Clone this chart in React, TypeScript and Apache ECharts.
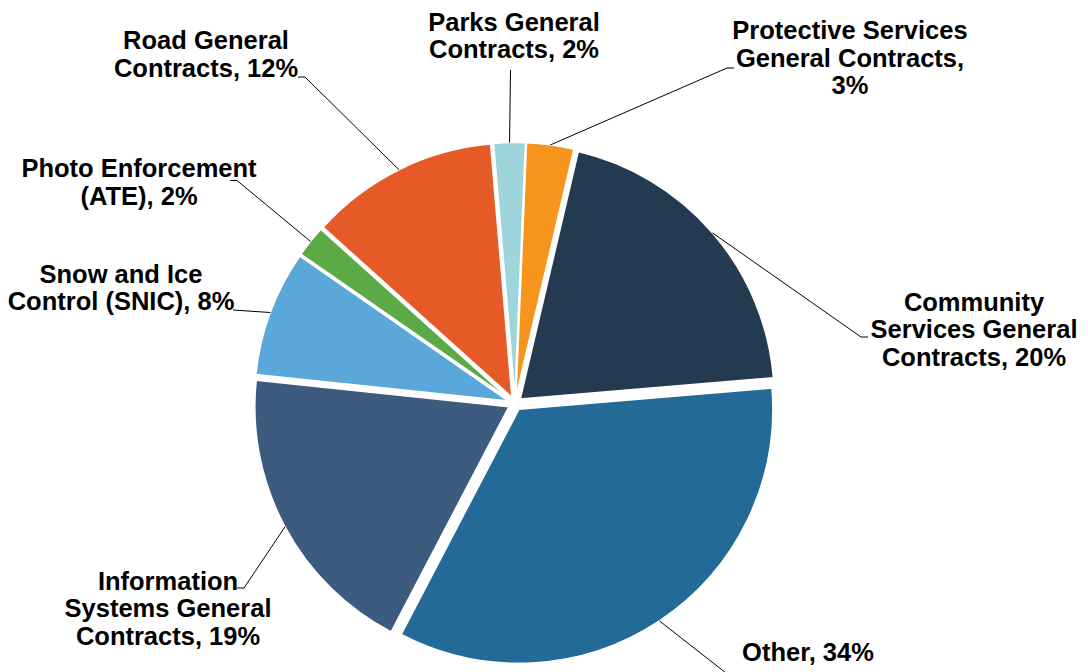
import React, { useEffect, useRef } from "react";
import * as echarts from "echarts";

const categories = [
  "Protective Services\nGeneral Contracts",
  "Community\nServices General\nContracts",
  "Other",
  "Information\nSystems General\nContracts",
  "Snow and Ice\nControl (SNIC)",
  "Photo Enforcement\n(ATE)",
  "Road General\nContracts",
  "Parks General\nContracts",
];
const shares = [3, 20, 34, 19, 8, 2, 12, 2];

// styling / layout (not data)
const colors = ["#F7941D", "#243A51", "#236A99", "#3D5B7E", "#5AA7DA", "#5BAA46", "#E55A27", "#9DD5DB"];
const labelSep = [",\n", ", ", ", ", ", ", ", ", ", ", ", ", ", "];
const labelPos = [
  [850, 57.5],
  [974, 329],
  [808, 652],
  [168, 608],
  [121, 287.5],
  [139, 182],
  [206, 54],
  [514, 35.5],
];
// leader line: [elbow, end] near each label
const leaderEnds = [
  [[727, 68], [734, 68]],
  [[861, 337], [868, 337]],
  [[735, 680], [735, 680]],
  [[244, 588], [237, 588]],
  [[233, 310], [233, 310]],
  [[237, 180.5], [230, 180.5]],
  [[305, 77], [298, 77]],
  [[510.5, 70], [510.5, 70]],
];
const CX = 515;
const CY = 403.5;
const R = 254;
const OFFSET = 7;
const START_ANGLE = 87.6; // degrees, ECharts convention (90 = 12 o'clock)

export default function App() {
  const ref = useRef<HTMLDivElement>(null);
  useEffect(() => {
    if (!ref.current) return;
    const chart = echarts.init(ref.current, null, { renderer: "svg" });
    const total = shares.reduce((a, b) => a + b, 0);
    let cum = 0;
    const graphics: any[] = [];
    shares.forEach((v, i) => {
      const midFrac = (cum + v / 2) / total;
      cum += v;
      const theta = ((90 - START_ANGLE) + midFrac * 360) * (Math.PI / 180); // clockwise from top
      const dx = Math.sin(theta);
      const dy = -Math.cos(theta);
      const anchor = [CX + (R + OFFSET) * dx, CY + (R + OFFSET) * dy];
      const [elbow, end] = leaderEnds[i];
      graphics.push({
        type: "polyline",
        z: 10,
        silent: true,
        shape: { points: [anchor, elbow, end] },
        style: { stroke: "#000000", lineWidth: 1, fill: null },
      });
      graphics.push({
        type: "text",
        z: 11,
        silent: true,
        x: labelPos[i][0],
        y: labelPos[i][1],
        style: {
          text: `${categories[i]}${labelSep[i]}${v}%`,
          fill: "#000000",
          fontFamily: "'Liberation Sans', Arial, sans-serif",
          fontWeight: "bold",
          fontSize: 25.5,
          lineHeight: 27.5,
          align: "center",
          verticalAlign: "middle",
        },
      });
    });
    chart.setOption({
      animation: false,
      backgroundColor: "#ffffff",
      graphic: graphics,
      series: [
        {
          type: "pie",
          center: [CX, CY],
          radius: R,
          startAngle: START_ANGLE,
          clockwise: true,
          avoidLabelOverlap: false,
          selectedMode: "multiple",
          selectedOffset: OFFSET,
          emphasis: { disabled: true },
          itemStyle: { borderColor: "#ffffff", borderWidth: 1.5 },
          label: { show: false },
          labelLine: { show: false },
          data: categories.map((name, i) => ({
            name,
            value: shares[i],
            selected: true,
            itemStyle: { color: colors[i] },
          })),
        },
      ],
    });
    return () => chart.dispose();
  }, []);
  return (
    <div
      ref={ref}
      style={{ position: "absolute", left: 0, top: 0, width: 1088, height: 672 }}
    />
  );
}
